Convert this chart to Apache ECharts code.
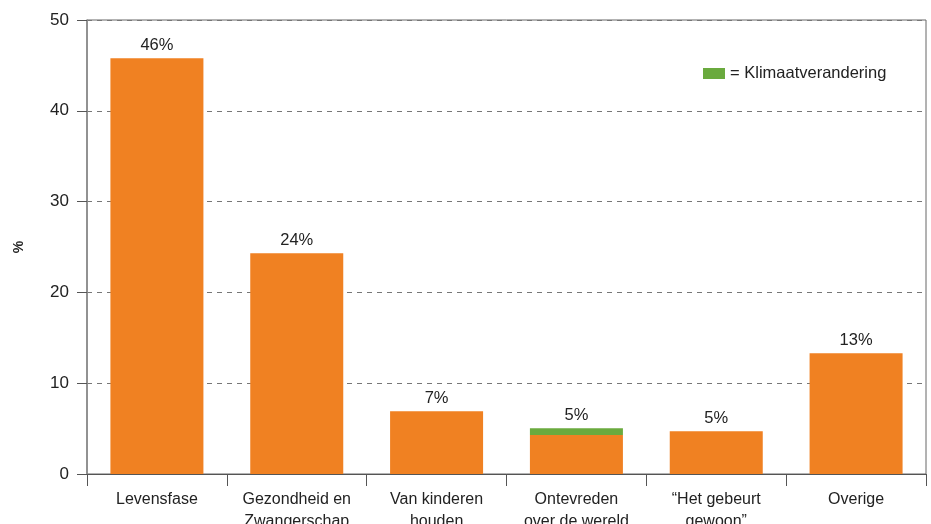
<!DOCTYPE html>
<html>
<head>
<meta charset="utf-8">
<style>
  html, body { margin: 0; padding: 0; background: #fff; }
  #chart { width: 931px; height: 524px; }
</style>
<script src="https://cdn.jsdelivr.net/npm/echarts@6/dist/echarts.min.js"></script>
</head>
<body>
<div id="chart"></div>
<script>
// categorieën en waarden (in %)
var categories = ['Levensfase', 'Gezondheid en\nZwangerschap', 'Van kinderen\nhouden', 'Ontevreden\nover de wereld', '\u201cHet gebeurt\ngewoon\u201d', 'Overige'];
var basisWaarden = [45.8, 24.3, 6.9, 4.3, 4.7, 13.3];
var klimaatWaarden = [0, 0, 0, 0.75, 0, 0];
var labelTeksten = ['46%', '24%', '7%', '5%', '5%', '13%'];
var yTicks = [0, 10, 20, 30, 40, 50];

var oranje = '#f08122';
var groen = '#6aaa3e';
var font = 'Liberation Sans, Arial, sans-serif';

var labelStijl = { show: true, position: 'top', distance: 4, color: '#222', fontSize: 16.5, fontFamily: font };

var basisData = basisWaarden.map(function (v, i) {
  return { value: v, label: { show: klimaatWaarden[i] === 0 } };
});
var klimaatData = klimaatWaarden.map(function (v, i) {
  return { value: v, label: { show: v > 0 } };
});

var myChart = echarts.init(document.getElementById('chart'));

var option = {
  animation: false,
  textStyle: { fontFamily: font },
  grid: {
    left: 87, right: 5, top: 20, bottom: 50,
    outerBoundsMode: 'none', containLabel: false,
    show: true, borderColor: '#666', borderWidth: 1, backgroundColor: 'transparent'
  },
  legend: {
    data: ['= Klimaatverandering'],
    left: 698, top: 60,
    icon: 'rect', itemWidth: 22, itemHeight: 11, itemGap: 6,
    textStyle: { color: '#222', fontSize: 16.5, fontFamily: font }
  },
  xAxis: {
    type: 'category',
    data: categories,
    axisLine: { lineStyle: { color: '#555', width: 1 } },
    axisTick: { show: true, length: 12, lineStyle: { color: '#555' } },
    axisLabel: { color: '#222', fontSize: 16, margin: 15, lineHeight: 22, interval: 0, fontFamily: font }
  },
  yAxis: {
    type: 'value',
    min: yTicks[0], max: yTicks[yTicks.length - 1], interval: 10,
    name: '%', nameLocation: 'middle', nameRotate: 90, nameGap: 61,
    nameTextStyle: { color: '#222', fontSize: 14, fontWeight: 'bold', fontFamily: font },
    axisLine: { show: true, lineStyle: { color: '#888', width: 1.5 } },
    axisTick: { show: true, length: 10, lineStyle: { color: '#555' } },
    axisLabel: { color: '#222', fontSize: 17, margin: 18, fontFamily: font },
    splitLine: { show: true, lineStyle: { color: '#777', type: [5, 5], width: 1 } }
  },
  series: [
    {
      name: 'Basis',
      type: 'bar',
      stack: 'totaal',
      barWidth: 93,
      itemStyle: { color: oranje },
      label: Object.assign({}, labelStijl, {
        formatter: function (p) { return labelTeksten[p.dataIndex]; }
      }),
      data: basisData
    },
    {
      name: '= Klimaatverandering',
      type: 'bar',
      stack: 'totaal',
      barWidth: 93,
      itemStyle: { color: groen },
      label: Object.assign({}, labelStijl, {
        formatter: function (p) { return labelTeksten[p.dataIndex]; }
      }),
      data: klimaatData
    }
  ]
};

myChart.setOption(option);
</script>
</body>
</html>
